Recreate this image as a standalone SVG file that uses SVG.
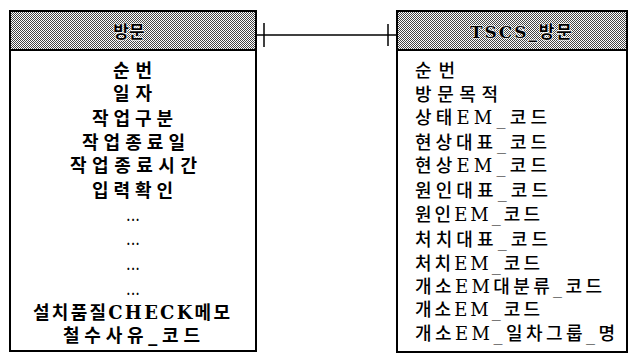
<svg xmlns="http://www.w3.org/2000/svg" width="635" height="354" viewBox="0 0 635 354">
<defs>
<pattern id="dots" width="2" height="2" patternUnits="userSpaceOnUse">
<rect width="2" height="2" fill="#fff"/>
<rect x="0" y="0" width="1" height="1" fill="#444"/>
<rect x="1" y="1" width="1" height="1" fill="#444"/>
</pattern>
</defs>
<style>
.box{fill:#fff;stroke:#000;stroke-width:2}
.hdr{fill:url(#dots);stroke:#000;stroke-width:2}
.t{font-family:"DejaVu Serif","Noto Sans CJK KR",serif;font-size:18px;fill:#000}
.l{font-weight:bold}
.r{font-weight:500}
.h{font-family:"DejaVu Serif","Noto Sans CJK KR",serif;font-size:17px;font-weight:bold;fill:#000;stroke:#fff;stroke-width:1.2;paint-order:stroke;stroke-linejoin:round}
.ln{stroke:#000;stroke-width:1.5;fill:none}
</style>
<g id="connectors">
<line class="ln" x1="256" y1="35" x2="397" y2="35"/>
<line class="ln" x1="264" y1="23" x2="264" y2="47"/>
<line class="ln" x1="388" y1="24" x2="388" y2="46"/>
</g>
<g id="node-visit">
<rect class="box" x="10" y="11" width="246" height="340"/>
<rect class="hdr" x="10" y="11" width="246" height="39"/>
<text class="h" x="129" y="38" text-anchor="middle">방문</text>
<text class="t l" x="113" y="77" textLength="39" lengthAdjust="spacing">순번</text>
<text class="t l" x="113" y="100" textLength="39" lengthAdjust="spacing">일자</text>
<text class="t l" x="92" y="125" textLength="81" lengthAdjust="spacing">작업구분</text>
<text class="t l" x="82" y="149" textLength="103" lengthAdjust="spacing">작업종료일</text>
<text class="t l" x="70" y="172" textLength="127" lengthAdjust="spacing">작업종료시간</text>
<text class="t l" x="92" y="197" textLength="81" lengthAdjust="spacing">입력확인</text>
<text class="t" x="126" y="221" textLength="14" lengthAdjust="spacingAndGlyphs">...</text>
<text class="t" x="126" y="245" textLength="14" lengthAdjust="spacingAndGlyphs">...</text>
<text class="t" x="126" y="270" textLength="14" lengthAdjust="spacingAndGlyphs">...</text>
<text class="t" x="126" y="295" textLength="14" lengthAdjust="spacingAndGlyphs">...</text>
<text class="t l" x="33" y="319" textLength="197" lengthAdjust="spacing">설치품질CHECK메모</text>
<text class="t l" x="63" y="342" textLength="137" lengthAdjust="spacing">철수사유_코드</text>
</g>
<g id="node-tscs-visit">
<rect class="box" x="397" y="11" width="230" height="341"/>
<rect class="hdr" x="397" y="11" width="230" height="39"/>
<text class="h" x="470" y="38" textLength="102" lengthAdjust="spacing">TSCS_방문</text>
<text class="t r" x="415" y="77" textLength="40" lengthAdjust="spacing">순번</text>
<text class="t r" x="415" y="101" textLength="83" lengthAdjust="spacing">방문목적</text>
<text class="t r" x="415" y="124" textLength="132" lengthAdjust="spacing">상태EM_코드</text>
<text class="t r" x="415" y="149" textLength="132" lengthAdjust="spacing">현상대표_코드</text>
<text class="t r" x="415" y="172" textLength="132" lengthAdjust="spacing">현상EM_코드</text>
<text class="t r" x="415" y="197" textLength="133" lengthAdjust="spacing">원인대표_코드</text>
<text class="t r" x="415" y="221" textLength="125" lengthAdjust="spacing">원인EM_코드</text>
<text class="t r" x="415" y="246" textLength="133" lengthAdjust="spacing">처치대표_코드</text>
<text class="t r" x="415" y="270" textLength="125" lengthAdjust="spacing">처치EM_코드</text>
<text class="t r" x="415" y="293" textLength="187" lengthAdjust="spacing">개소EM대분류_코드</text>
<text class="t r" x="415" y="316" textLength="125" lengthAdjust="spacing">개소EM_코드</text>
<text class="t r" x="415" y="340" textLength="200" lengthAdjust="spacing">개소EM_일차그룹_명</text>
</g>
</svg>
